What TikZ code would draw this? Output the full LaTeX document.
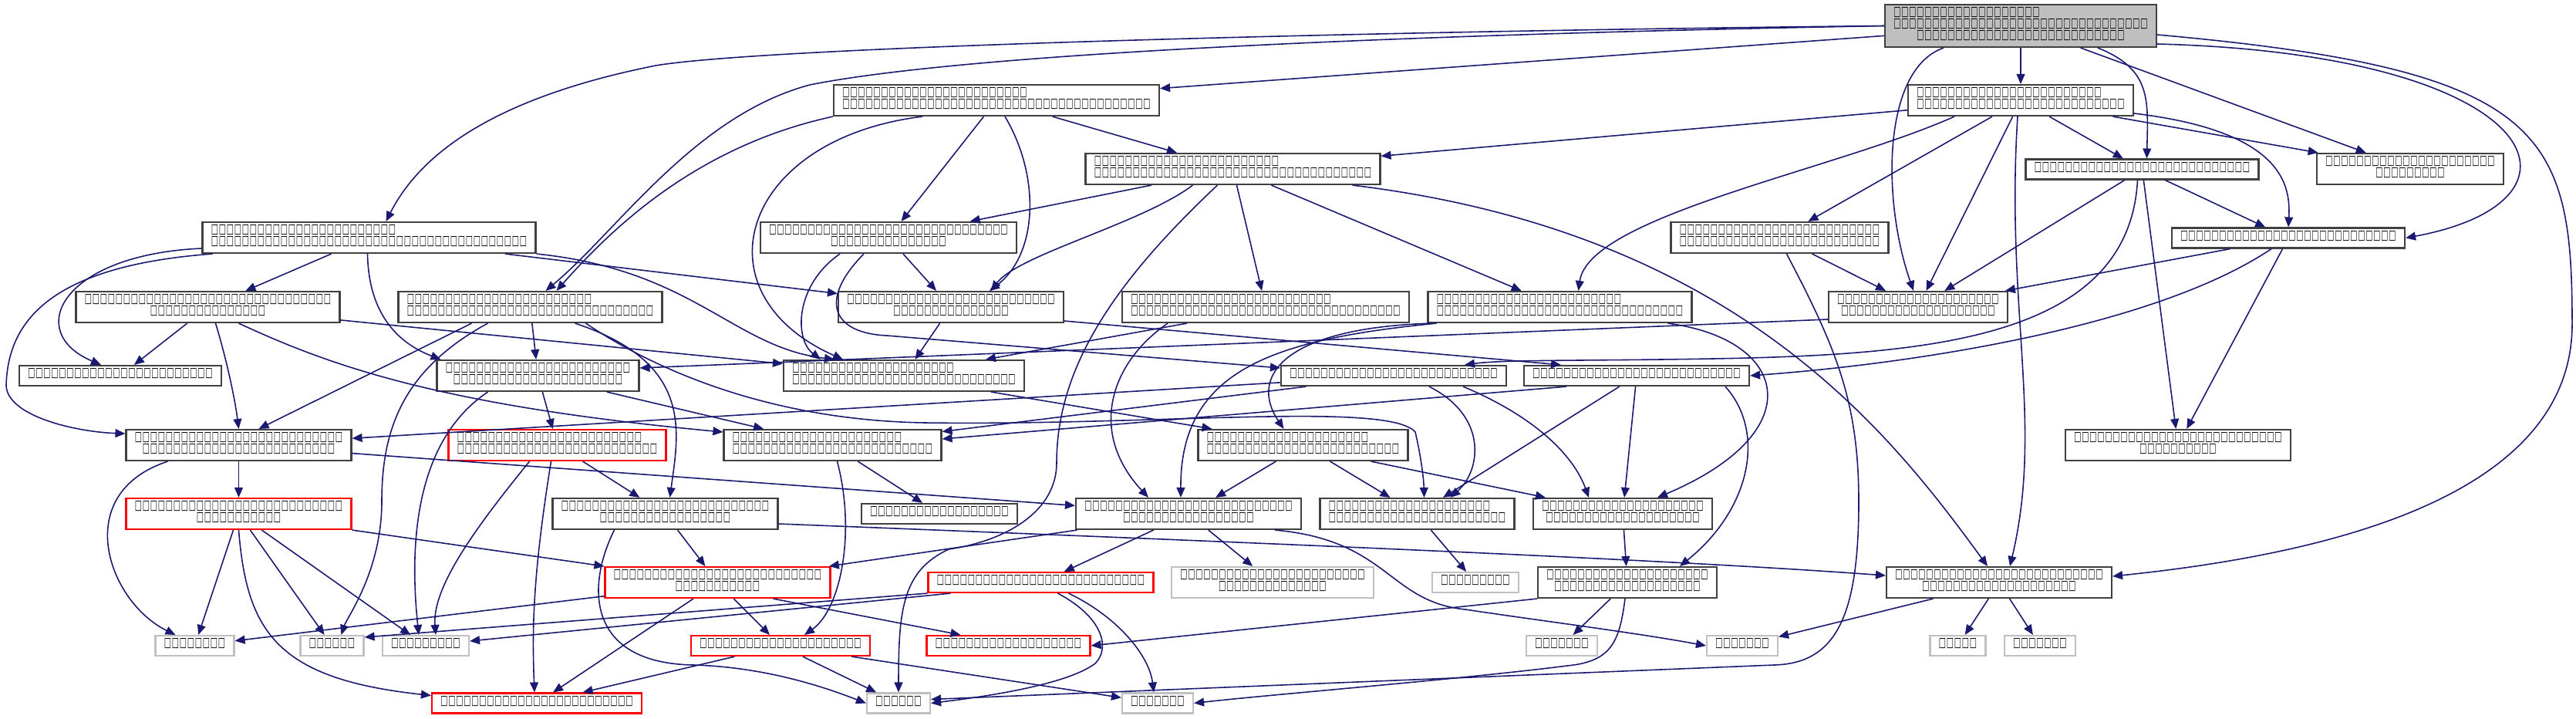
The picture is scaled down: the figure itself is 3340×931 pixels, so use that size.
\documentclass[tikz,border=0pt]{standalone}
\usepackage{fontspec}
\usepackage{graphicx}
\usetikzlibrary{arrows.meta}
\newfontfamily\tofufont{DejaVu Sans}
\definecolor{edgeblue}{HTML}{191970}
\definecolor{rootgray}{HTML}{BFBFBF}
\definecolor{extgray}{HTML}{C0C0C0}
\definecolor{boxline}{HTML}{404040}
\newsavebox\glyphbox
\newcommand\boxrun[1]{\foreach \k in {1,...,#1}{\usebox\glyphbox}}
\begin{document}
\sbox\glyphbox{\makebox[1mm]{\resizebox{0.92mm}{1.1mm}{\tofufont □}\rule[-0.75mm]{0pt}{0.75mm}}}
\begin{tikzpicture}[x=0.1mm, y=-0.1mm,
    docnode/.style={draw=boxline, line width=0.6pt, fill=white, inner xsep=1.1mm, inner ysep=0pt,
      text=black, font={\fontsize{3pt}{4.27pt}\selectfont\lineskiplimit=-1in}},
    rednode/.style={docnode, draw=red},
    extnode/.style={docnode, draw=extgray},
    rootnode/.style={docnode, fill=rootgray},
    oneline/.style={minimum height=2.6mm},
    twoline/.style={minimum height=4mm},
    threeline/.style={minimum height=5.5mm},
    inc/.style={draw=edgeblue, line width=0.45pt, -{Triangle[length=3.7pt,width=3.1pt]}}]
    \useasboundingbox (0,0) rectangle (3340,931);

    % Nodes (top rows)
    \node[rootnode, threeline, align=center] (a) at (2620,33.5) {\boxrun{19}\hspace*{14mm}\\\boxrun{33}\\\boxrun{27}};
    \node[docnode, twoline, align=left] (b1) at (1292,130) {\boxrun{24}\\\boxrun{40}};
    \node[docnode, twoline, align=left] (b2) at (2620,130) {\boxrun{24}\\\boxrun{27}};
    \node[docnode, twoline, align=left] (c1) at (1598.5,219) {\boxrun{24}\\\boxrun{36}};
    \node[docnode, oneline] (c2) at (2777.5,219.5) {\boxrun{28}};
    \node[docnode, twoline, align=center] (c3) at (3125,219) {\boxrun{22}\\\boxrun{9}};
    \node[docnode, twoline, align=left] (d1) at (478.5,308) {\boxrun{24}\\\boxrun{41}};
    \node[docnode, twoline, align=center] (d2) at (1152,308) {\boxrun{31}\\\boxrun{15}};
    \node[docnode, twoline, align=left] (d3) at (2307.5,308) {\boxrun{26}\\\boxrun{26}};
    \node[docnode, oneline] (d4) at (2967,308.5) {\boxrun{28}};

    % Nodes (middle rows)
    \node[docnode, twoline, align=center] (e1) at (269.5,398) {\boxrun{32}\\\boxrun{15}};
    \node[docnode, twoline, align=left] (e2) at (687.5,398) {\boxrun{24}\\\boxrun{32}};
    \node[docnode, twoline, align=center] (e3) at (1233,398) {\boxrun{27}\\\boxrun{15}};
    \node[docnode, twoline, align=left] (e4) at (1641,398) {\boxrun{26}\\\boxrun{35}};
    \node[docnode, twoline, align=left] (e5) at (2022.5,398) {\boxrun{24}\\\boxrun{32}};
    \node[docnode, twoline, align=center] (e6) at (2487,398) {\boxrun{21}\\\boxrun{20}};
    \node[docnode, oneline] (f1) at (156,487) {\boxrun{24}};
    \node[docnode, twoline, align=center] (f2) at (697.5,487) {\boxrun{24}\\\boxrun{22}};
    \node[docnode, twoline, align=left] (f3) at (1172,487) {\boxrun{21}\\\boxrun{29}};
    \node[docnode, oneline] (f4) at (1807,487) {\boxrun{27}};
    \node[docnode, oneline] (f5) at (2122,487) {\boxrun{27}};
    \node[docnode, twoline, align=center] (g1) at (309.5,577) {\boxrun{27}\\\boxrun{25}};
    \node[rednode, twoline, align=left] (g2) at (722.5,577) {\boxrun{24}\\\boxrun{26}};
    \node[docnode, twoline, align=left] (g3) at (1079.5,577) {\boxrun{22}\\\boxrun{26}};
    \node[docnode, twoline, align=left] (g4) at (1689.5,577) {\boxrun{21}\\\boxrun{25}};
    \node[docnode, twoline, align=center] (g5) at (2824,577) {\boxrun{27}\\\boxrun{10}};
    \node[rednode, twoline, align=center] (h1) at (309.5,666) {\boxrun{27}\\\boxrun{11}};
    \node[docnode, twoline, align=center] (h2) at (862.5,666) {\boxrun{27}\\\boxrun{17}};
    \node[docnode, oneline] (h3) at (1218,666) {\boxrun{18}};
    \node[docnode, twoline, align=center] (h4) at (1541,666) {\boxrun{27}\\\boxrun{17}};
    \node[docnode, twoline, align=left] (h5) at (1837.5,666) {\boxrun{21}\\\boxrun{23}};
    \node[docnode, twoline, align=center] (h6) at (2104,666) {\boxrun{21}\\\boxrun{20}};

    % Nodes (bottom rows)
    \node[rednode, twoline, align=center] (i1) at (930.5,755) {\boxrun{27}\\\boxrun{11}};
    \node[rednode, oneline] (i2) at (1349.5,755) {\boxrun{27}};
    \node[extnode, twoline, align=center] (ext10) at (1650,755) {\boxrun{24}\\\boxrun{14}};
    \node[extnode, oneline] (ext11) at (1913,755) {\boxrun{9}};
    \node[docnode, twoline, align=center] (i5) at (2110,755) {\boxrun{21}\\\boxrun{19}};
    \node[docnode, twoline, align=center] (i6) at (2592,755) {\boxrun{27}\\\boxrun{20}};
    \node[extnode, oneline] (ext1) at (252.5,837) {\boxrun{8}};
    \node[extnode, oneline] (ext2) at (430.5,837) {\boxrun{6}};
    \node[extnode, oneline] (ext3) at (552,837) {\boxrun{9}};
    \node[rednode, oneline] (j1) at (1012,837) {\boxrun{21}};
    \node[rednode, oneline] (j2) at (1307.5,837) {\boxrun{19}};
    \node[extnode, oneline] (ext4) at (2025,837) {\boxrun{7}};
    \node[extnode, oneline] (ext5) at (2259,837) {\boxrun{7}};
    \node[extnode, oneline] (ext6) at (2538.5,837) {\boxrun{5}};
    \node[extnode, oneline] (ext7) at (2645,837) {\boxrun{7}};
    \node[rednode, oneline] (k1) at (696,911.5) {\boxrun{25}};
    \node[extnode, oneline] (ext8) at (1165,911.5) {\boxrun{6}};
    \node[extnode, oneline] (ext9) at (1501,911.5) {\boxrun{7}};

    % Edges
    % a -> ...
    \draw[inc] (a) -- (b1);
    \draw[inc] (a) -- (b2);
    \draw[inc] ([xshift=10mm]a.south) .. controls (2790,90) and (2785,130) .. ([xshift=0.6mm]c2.north);
    \draw[inc] (a) -- (c3);
    \draw[inc] (a.west) .. controls (1800,40) and (1000,60) .. (850,85) .. controls (700,115) and (560,170) .. ([xshift=2.2mm]d1.north);
    \draw[inc] ([yshift=-2.35mm]a.east) .. controls (3300,70) and (3380,260) .. (d4.east);
    \draw[inc] (a.west) .. controls (1800,45) and (1250,70) .. (1050,110) .. controls (900,150) and (800,300) .. ([xshift=2mm]e2.north);
    \draw[inc] ([xshift=-10mm]a.south) .. controls (2440,90) and (2440,260) .. ([xshift=-0.6mm]e6.north);
    \draw[inc] ([yshift=-1.15mm]a.east) .. controls (3300,90) and (3335,170) .. (3335,420) .. controls (3335,650) and (3000,720) .. ([yshift=0.8mm]i6.east);

    % b1 -> ...
    \draw[inc] (b1) -- (c1);
    \draw[inc] (b1) -- (d2);
    \draw[inc] (b1.south west) .. controls (900,190) and (790,300) .. ([xshift=3.4mm]e2.north);
    \draw[inc] ([xshift=1.1mm]b1.south) .. controls (1350,230) and (1345,330) .. ([xshift=5mm]e3.north);
    \draw[inc] ([xshift=-9.6mm]b1.south) .. controls (960,180) and (900,380) .. ([xshift=-7.9mm]f3.north);

    % b2 -> ...
    \draw[inc] (b2) -- (c1);
    \draw[inc] (b2) -- (c2);
    \draw[inc] (b2) -- (c3);
    \draw[inc] (b2) -- (d3);
    \draw[inc] ([yshift=-1.7mm]b2.east) .. controls (2960,170) and (2970,240) .. (d4.north);
    \draw[inc] ([xshift=-8.6mm]b2.south) .. controls (2380,220) and (2060,280) .. ([xshift=2.4mm]e5.north);
    \draw[inc] (b2) -- (e6);
    \draw[inc] ([xshift=-0.4mm]b2.south) .. controls (2600,400) and (2650,550) .. ([xshift=1.4mm]i6.north);

    % c1 -> ...
    \draw[inc] (c1) -- (d2);
    \draw[inc] ([xshift=-5.2mm]c1.south) .. controls (1480,290) and (1320,330) .. ([xshift=5.2mm]e3.north);
    \draw[inc] (c1) -- (e4);
    \draw[inc] (c1) -- (e5);
    \draw[inc] ([xshift=15.5mm]c1.south) .. controls (2250,300) and (2450,560) .. ([xshift=-1.5mm]i6.north);
    \draw[inc] ([xshift=-2mm]c1.south) .. controls (1440,370) and (1370,480) .. (1370,600) .. controls (1370,660) and (1310,700) .. (1230,712) .. controls (1170,740) and (1165,790) .. (ext8.north);

    % c2 -> ...
    \draw[inc] (c2) -- (d4);
    \draw[inc] (c2) -- (e6);
    \draw[inc] (c2) -- (g5);
    \draw[inc] ([xshift=-0.6mm]c2.south) .. controls (2760,440) and (2500,460) .. (2220,465) .. controls (2050,468) and (1950,466) .. ([xshift=9.2mm]f4.north);

    % d1 -> ...
    \draw[inc] (d1) -- (e1);
    \draw[inc] ([yshift=-1.4mm]d1.west) .. controls (80,330) and (30,430) .. ([xshift=-2.5mm]f1.north);
    \draw[inc] ([xshift=-20.3mm]d1.south) .. controls (60,345) and (10,420) .. (8,500) .. controls (10,540) and (100,560) .. ([yshift=1.5mm]g1.west);
    \draw[inc] ([xshift=-0.2mm]d1.south) .. controls (478,420) and (530,450) .. ([xshift=-12.6mm]f2.north);
    \draw[inc] (d1) -- (e3);
    \draw[inc] (d1.south east) .. controls (900,350) and (950,450) .. ([xshift=-9mm]f3.north);

    % d2, d3, d4 -> ...
    \draw[inc] (d2) -- (e3);
    \draw[inc] ([xshift=-6.3mm]d2.south) .. controls (1030,370) and (1030,440) .. ([xshift=-10.8mm]f3.north);
    \draw[inc] ([xshift=-3.2mm]d2.south) .. controls (1060,390) and (1080,432) .. (1150,435) -- ([yshift=1mm]f4.west);
    \draw[inc] (d3) -- (e6);
    \draw[inc] ([xshift=0.9mm]d3.south) .. controls (2380,450) and (2410,520) .. (2410,650) .. controls (2410,800) and (2380,860) .. (2300,862) -- ([yshift=0.5mm]ext8.east);
    \draw[inc] (d4) -- (e6);
    \draw[inc] ([xshift=-2.2mm]d4.south) .. controls (2800,420) and (2500,470) .. (f5.east);
    \draw[inc] (d4) -- (g5);

    % e1 -> ...
    \draw[inc] (e1) -- (f1);
    \draw[inc] ([xshift=1mm]e1.south) .. controls (295,470) and (305,520) .. (g1.north);
    \draw[inc] ([xshift=4mm]e1.south) .. controls (420,470) and (560,525) .. ([yshift=1.7mm]g3.west);
    \draw[inc] (e1) -- (f3);

    % e2 -> ...
    \draw[inc] (e2) -- (f2);
    \draw[inc] ([xshift=-7.6mm]e2.south) -- ([xshift=2.6mm]g1.north);
    \draw[inc] ([xshift=-5.5mm]e2.south) .. controls (520,480) and (495,560) .. (495,650) .. controls (495,740) and (450,800) .. ([xshift=1.2mm]ext2.north);
    \draw[inc] ([xshift=5.8mm]e2.south) .. controls (900,470) and (880,560) .. ([xshift=0.6mm]h2.north);
    \draw[inc] ([xshift=7.2mm]e2.south) .. controls (850,480) and (1000,545) .. (1200,548) .. controls (1500,552) and (1800,520) .. (1835,560) .. controls (1842,590) and (1846,620) .. ([xshift=0.9mm]h5.north);

    % e3, e4, e5, e6 -> ...
    \draw[inc] (e3) -- (f3);
    \draw[inc] ([yshift=-1.8mm]e3.east) -- ([xshift=-9.8mm]f5.north);
    \draw[inc] ([xshift=-10.2mm]e4.south) -- ([xshift=10.6mm]f3.north);
    \draw[inc] ([xshift=-12.7mm]e4.south) .. controls (1440,470) and (1410,560) .. ([xshift=-5.2mm]h4.north);
    \draw[inc] ([xshift=-16.5mm]e5.south) .. controls (1660,425) and (1620,490) .. ([xshift=-2.5mm]g4.north);
    \draw[inc] ([xshift=-16mm]e5.south) .. controls (1650,440) and (1530,480) .. ([xshift=-1mm]h4.north);
    \draw[inc] ([xshift=14mm]e5.south) .. controls (2320,440) and (2350,560) .. ([xshift=4.5mm]h6.north);
    \draw[inc] ([yshift=-1.6mm]e6.west) -- ([yshift=1mm]f2.east);

    % f2, f3, f4, f5 -> ...
    \draw[inc] (f2) -- (g2);
    \draw[inc] (f2) -- (g3);
    \draw[inc] ([xshift=-6.5mm]f2.south) .. controls (540,570) and (530,700) .. ([xshift=-0.9mm]ext3.north);
    \draw[inc] ([xshift=11.3mm]f3.south) -- ([xshift=-11.8mm]g4.north);
    \draw[inc] (f4) -- (g1);
    \draw[inc] (f4) -- (g3);
    \draw[inc] ([xshift=4.6mm]f4.south) .. controls (1930,540) and (1920,610) .. ([xshift=4.3mm]h5.north);
    \draw[inc] ([xshift=9mm]f4.south) .. controls (1990,540) and (2040,590) .. ([xshift=-4.4mm]h6.north);
    \draw[inc] ([xshift=-9.1mm]f5.south) -- ([yshift=0.8mm]g3.east);
    \draw[inc] (f5) -- (h5);
    \draw[inc] (f5) -- (h6);
    \draw[inc] ([xshift=11.5mm]f5.south) .. controls (2290,560) and (2270,660) .. ([xshift=6.8mm]i5.north);

    % g1 ... g4 -> ...
    \draw[inc] (g1) -- (h1);
    \draw[inc] ([xshift=-9.2mm]g1.south) .. controls (90,640) and (140,780) .. ([xshift=-2.5mm]ext1.north);
    \draw[inc] (g1) -- (h4);
    \draw[inc] (g2) -- (h2);
    \draw[inc] ([xshift=-3.6mm]g2.south) .. controls (620,680) and (560,760) .. ([xshift=1.3mm]ext3.north);
    \draw[inc] ([xshift=-0.8mm]g2.south) .. controls (690,750) and (690,820) .. ([xshift=-0.3mm]k1.north);
    \draw[inc] (g3) -- (h3);
    \draw[inc] ([xshift=0.6mm]g3.south) .. controls (1110,690) and (1090,790) .. ([xshift=3.1mm]j1.north);
    \draw[inc] (g4) -- (h4);
    \draw[inc] (g4) -- (h5);
    \draw[inc] ([xshift=8.8mm]g4.south) -- ([xshift=-10mm]h6.north);

    % h1 ... h6 -> ...
    \draw[inc] (h1) -- (ext1);
    \draw[inc] (h1) -- (ext2);
    \draw[inc] (h1) -- (ext3);
    \draw[inc] (h1) -- (i1);
    \draw[inc] (h1.south) .. controls (320,820) and (360,880) .. ([yshift=1mm]k1.west);
    \draw[inc] (h2) -- (i1);
    \draw[inc] ([yshift=-1.3mm]h2.east) .. controls (1800,710) and (2200,728) .. ([yshift=0.9mm]i6.west);
    \draw[inc] ([xshift=-6.6mm]h2.south) .. controls (760,760) and (760,860) .. (900,862) .. controls (1000,865) and (1080,895) .. (ext8.west);
    \draw[inc] (h4) -- (i2);
    \draw[inc] (h4) -- (ext10);
    \draw[inc] (h4) -- (i1);
    \draw[inc] ([xshift=11.2mm]h4.south) .. controls (1800,700) and (1800,780) .. (1900,790) .. controls (2000,805) and (2120,820) .. (ext5.west);
    \draw[inc] (h5) -- (ext11);
    \draw[inc] (h6) -- (i5);

    % i1 ... j1 -> ...
    \draw[inc] (i1) -- (ext1);
    \draw[inc] (i1) -- (j1);
    \draw[inc] ([xshift=7.2mm]i1.south) -- ([xshift=-6.2mm]j2.north);
    \draw[inc] (i1) -- (k1);
    \draw[inc] (i2.south west) -- ([yshift=1.1mm]ext2.east);
    \draw[inc] ([xshift=3mm]i2.south west) -- ([yshift=0.6mm]ext3.east);
    \draw[inc] ([xshift=2.2mm]i2.south) .. controls (1430,800) and (1440,840) .. (1420,860) .. controls (1380,890) and (1260,905) .. (ext8.east);
    \draw[inc] ([xshift=3.6mm]i2.south) .. controls (1450,800) and (1490,850) .. ([xshift=-0.5mm]ext9.north);
    \draw[inc] (i5.south west) -- (j2.east);
    \draw[inc] (i5) -- (ext4);
    \draw[inc] ([xshift=-0.3mm]i5.south) .. controls (2100,830) and (2090,855) .. (2040,862) .. controls (1900,880) and (1650,900) .. (ext9.east);
    \draw[inc] (i6) -- (ext5);
    \draw[inc] (i6) -- (ext6);
    \draw[inc] (i6) -- (ext7);
    \draw[inc] (j1) -- (k1);
    \draw[inc] (j1) -- (ext8);
    \draw[inc] (j1) -- (ext9);
\end{tikzpicture}
\end{document}
